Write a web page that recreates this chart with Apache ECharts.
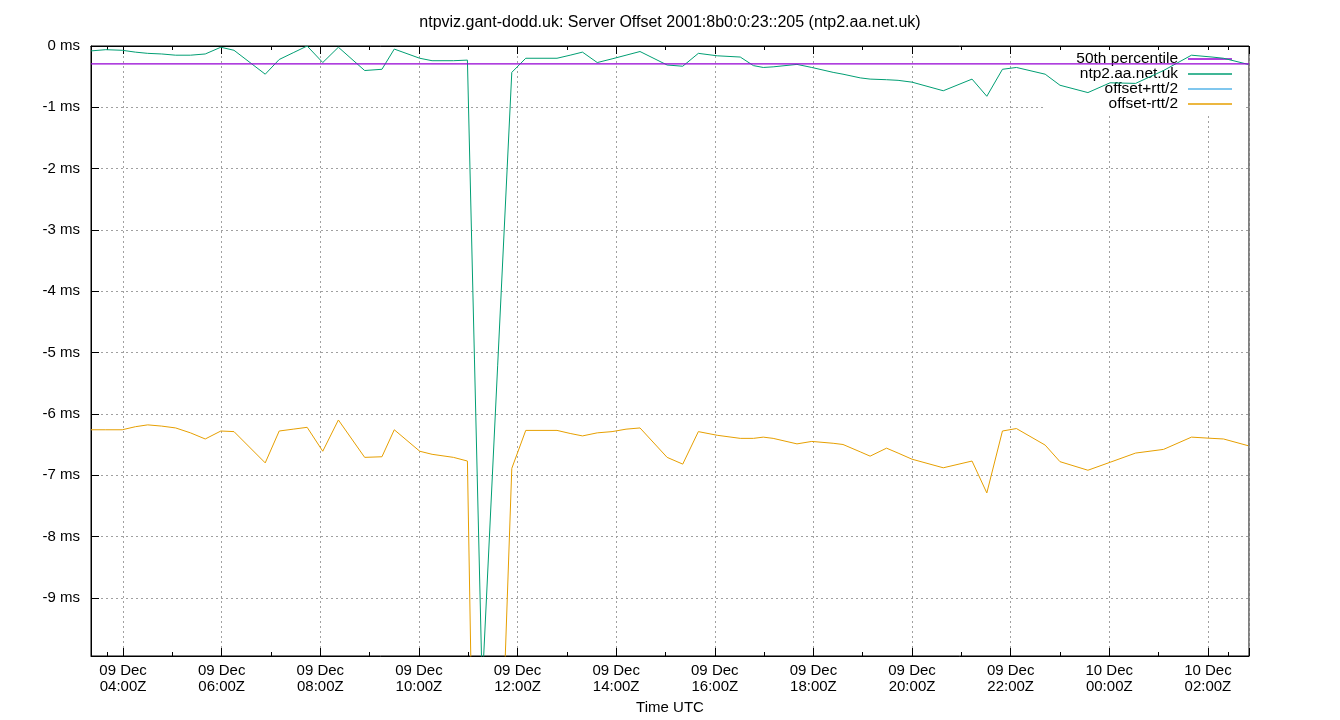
<!DOCTYPE html>
<html><head><meta charset="utf-8">
<script src="https://cdn.jsdelivr.net/npm/echarts@6/dist/echarts.min.js"></script>
<style>html,body{margin:0;padding:0;background:#fff}#c{width:1340px;height:720px}</style>
</head><body><div id="c"></div>
<script>
const chartTitle = 'ntpviz.gant-dodd.uk: Server Offset 2001:8b0:0:23::205 (ntp2.aa.net.uk)';
const axisStart = '2025-12-09T03:21:00Z';
const axisEnd = '2025-12-10T02:50:00Z';
const yMin = -9.95, yMax = 0;
const times = [
  '2025-12-09T03:21:00Z','2025-12-09T03:39:00Z','2025-12-09T03:59:00Z','2025-12-09T04:15:00Z','2025-12-09T04:30:00Z',
  '2025-12-09T04:47:00Z','2025-12-09T05:04:00Z','2025-12-09T05:22:00Z','2025-12-09T05:40:00Z','2025-12-09T05:59:00Z',
  '2025-12-09T06:15:00Z','2025-12-09T06:53:00Z','2025-12-09T07:10:00Z','2025-12-09T07:27:00Z','2025-12-09T07:44:00Z',
  '2025-12-09T08:03:00Z','2025-12-09T08:22:00Z','2025-12-09T08:54:00Z','2025-12-09T09:15:00Z','2025-12-09T09:30:00Z',
  '2025-12-09T10:01:00Z','2025-12-09T10:16:00Z','2025-12-09T10:42:00Z','2025-12-09T10:59:00Z','2025-12-09T11:17:00Z',
  '2025-12-09T11:53:00Z','2025-12-09T12:10:00Z','2025-12-09T12:48:00Z','2025-12-09T13:04:00Z','2025-12-09T13:19:00Z',
  '2025-12-09T13:37:00Z','2025-12-09T13:55:00Z','2025-12-09T14:12:00Z','2025-12-09T14:29:00Z','2025-12-09T15:02:00Z',
  '2025-12-09T15:21:00Z','2025-12-09T15:40:00Z','2025-12-09T16:03:00Z','2025-12-09T16:31:00Z','2025-12-09T16:47:00Z',
  '2025-12-09T16:59:00Z','2025-12-09T17:11:00Z','2025-12-09T17:40:00Z','2025-12-09T17:58:00Z','2025-12-09T18:24:00Z',
  '2025-12-09T18:36:00Z','2025-12-09T18:57:00Z','2025-12-09T19:09:00Z','2025-12-09T19:29:00Z','2025-12-09T19:43:00Z',
  '2025-12-09T20:00:00Z','2025-12-09T20:38:00Z','2025-12-09T21:13:00Z','2025-12-09T21:31:00Z','2025-12-09T21:50:00Z',
  '2025-12-09T22:07:00Z','2025-12-09T22:42:00Z','2025-12-09T23:00:00Z','2025-12-09T23:34:00Z','2025-12-10T00:01:00Z',
  '2025-12-10T00:32:00Z','2025-12-10T01:06:00Z','2025-12-10T01:40:00Z','2025-12-10T02:05:00Z','2025-12-10T02:19:00Z',
  '2025-12-10T02:49:00Z'
];
// offset (ms), series "ntp2.aa.net.uk"
const offsetMs = [
  -0.08,-0.06,-0.07,-0.10,-0.12,
  -0.13,-0.15,-0.15,-0.13,-0.02,
  -0.07,-0.46,-0.22,-0.11,0.00,
  -0.27,-0.02,-0.40,-0.38,-0.05,
  -0.20,-0.24,-0.24,-0.23,-10.45,
  -0.43,-0.20,-0.20,-0.15,-0.10,
  -0.27,-0.21,-0.15,-0.09,-0.31,
  -0.33,-0.12,-0.16,-0.18,-0.32,
  -0.35,-0.34,-0.30,-0.35,-0.43,
  -0.46,-0.52,-0.54,-0.55,-0.56,
  -0.59,-0.73,-0.54,-0.82,-0.38,
  -0.35,-0.46,-0.64,-0.76,-0.60,
  -0.61,-0.40,-0.15,-0.18,-0.20,
  -0.30
];
// offset - rtt/2 (ms)
const offsetMinusHalfRtt = [
  -6.26,-6.26,-6.26,-6.21,-6.18,
  -6.20,-6.23,-6.31,-6.41,-6.28,
  -6.29,-6.80,-6.28,-6.25,-6.22,
  -6.61,-6.10,-6.71,-6.70,-6.26,
  -6.61,-6.66,-6.71,-6.77,-20.8,
  -6.89,-6.27,-6.27,-6.32,-6.36,
  -6.31,-6.29,-6.25,-6.23,-6.71,
  -6.82,-6.29,-6.35,-6.40,-6.40,
  -6.38,-6.40,-6.49,-6.45,-6.48,
  -6.50,-6.62,-6.69,-6.56,-6.64,
  -6.74,-6.88,-6.77,-7.29,-6.28,
  -6.24,-6.51,-6.78,-6.92,-6.79,
  -6.64,-6.58,-6.38,-6.40,-6.41,
  -6.52
];
// offset + rtt/2 lies above 0 ms, outside the plotted range: nothing visible
const offsetPlusHalfRtt = [];
const percentile50 = -0.29;
const legendNames = ['50th percentile','ntp2.aa.net.uk','offset+rtt/2','offset-rtt/2'];
const colors = ['#9400d3','#009e73','#56b4e9','#e69f00'];
const months = ['Jan','Feb','Mar','Apr','May','Jun','Jul','Aug','Sep','Oct','Nov','Dec'];

const FONT = '"Liberation Sans", Arial, sans-serif';
const gridLine = { show: true, lineStyle: { color: '#a0a0a0', type: [2, 3], width: 1 } };
const lineIcon = 'path://M0 0H44V1.3H0Z';

function fmtTime(v) {
  const d = new Date(v);
  const p = n => String(n).padStart(2, '0');
  return p(d.getUTCDate()) + ' ' + months[d.getUTCMonth()] + '\n' + p(d.getUTCHours()) + ':' + p(d.getUTCMinutes()) + 'Z';
}

const chart = echarts.init(document.getElementById('c'), null, { renderer: 'canvas' });
chart.setOption({
  useUTC: true,
  animation: false,
  backgroundColor: '#fff',
  textStyle: { fontFamily: FONT },
  title: {
    text: chartTitle, left: 'center', top: 15, padding: 0,
    textStyle: { fontSize: 16, fontWeight: 'normal', color: '#000', fontFamily: FONT }
  },
  legend: {
    data: legendNames.map((n, i) => ({ name: n, icon: lineIcon, itemStyle: { color: colors[i] } })),
    orient: 'vertical', align: 'right',
    right: 97, top: 50, padding: [1, 11, 4, 32], itemGap: -1,
    itemWidth: 44, itemHeight: 15, backgroundColor: '#fff', z: 1,
    textStyle: { fontSize: 15.5, color: '#000', fontFamily: FONT, padding: [0, 5, 0, 0], lineHeight: 15 },
    selectedMode: false
  },
  grid: { left: 91, right: 91, top: 46, bottom: 64, show: true, borderColor: '#000', borderWidth: 1, containLabel: false, outerBoundsMode: 'none' },
  xAxis: [{
    type: 'time', min: axisStart, max: axisEnd, splitNumber: 10,
    name: 'Time UTC', nameLocation: 'middle', nameGap: 43,
    nameTextStyle: { fontSize: 15, color: '#000', fontFamily: FONT },
    axisLine: { show: true, onZero: false, lineStyle: { color: '#000' } },
    axisTick: { show: true, inside: true, length: 8, lineStyle: { color: '#000' } },
    minorTick: { show: true, splitNumber: 2, length: 4, lineStyle: { color: '#000' } },
    axisLabel: { formatter: fmtTime, fontSize: 15, color: '#000', fontFamily: FONT, lineHeight: 16, margin: 7, showMinLabel: false, showMaxLabel: false, hideOverlap: false, fontWeight: 'normal' },
    splitLine: gridLine
  }, {
    type: 'time', position: 'top', min: axisStart, max: axisEnd, splitNumber: 10,
    axisLine: { show: true, onZero: false, lineStyle: { color: '#000' } },
    axisTick: { show: true, inside: true, length: 8, lineStyle: { color: '#000' } },
    minorTick: { show: true, splitNumber: 2, length: 4, lineStyle: { color: '#000' } },
    axisLabel: { show: false }, splitLine: { show: false }
  }],
  yAxis: [{
    type: 'value', min: yMin, max: yMax, splitNumber: 10,
    axisLine: { show: true, onZero: false, lineStyle: { color: '#000' } },
    axisTick: { show: true, inside: true, length: 8, lineStyle: { color: '#000' } },
    axisLabel: { formatter: v => v + ' ms', fontSize: 15, color: '#000', fontFamily: FONT, margin: 11, showMinLabel: false },
    splitLine: gridLine
  }],
  series: [
    { name: legendNames[0], type: 'line', showSymbol: false, symbol: 'none', z: 3,
      data: [[axisStart, percentile50], [axisEnd, percentile50]],
      lineStyle: { color: colors[0], width: 1.2 }, itemStyle: { color: colors[0] } },
    { name: legendNames[1], type: 'line', showSymbol: false, symbol: 'none', z: 2,
      data: times.map((t, i) => [t, offsetMs[i]]),
      lineStyle: { color: colors[1], width: 1 }, itemStyle: { color: colors[1] } },
    { name: legendNames[2], type: 'line', showSymbol: false, symbol: 'none', z: 2,
      data: offsetPlusHalfRtt,
      lineStyle: { color: colors[2], width: 1 }, itemStyle: { color: colors[2] } },
    { name: legendNames[3], type: 'line', showSymbol: false, symbol: 'none', z: 2,
      data: times.map((t, i) => [t, offsetMinusHalfRtt[i]]),
      lineStyle: { color: colors[3], width: 1 }, itemStyle: { color: colors[3] } }
  ]
});
</script>
</body></html>
